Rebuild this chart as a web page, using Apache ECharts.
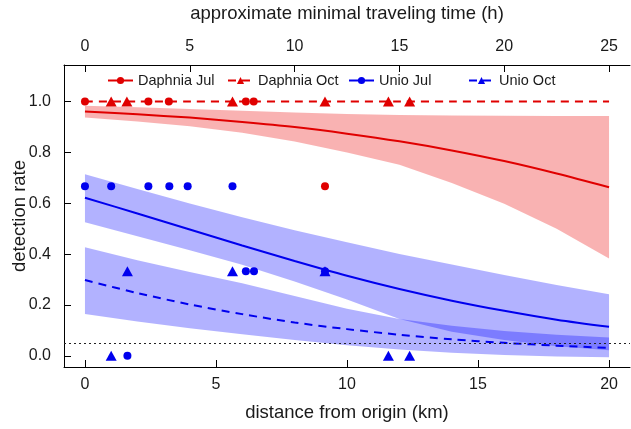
<!DOCTYPE html>
<html><head><meta charset="utf-8">
<script src="https://cdn.jsdelivr.net/npm/echarts@6/dist/echarts.min.js"></script>
<style>html,body{margin:0;padding:0;background:#fff}#c{width:631px;height:429px}</style>
</head><body><div id="c"></div>
<script>
// distance grid (km) at which fitted curves / bands were read
const xGrid = [0, 2, 4, 6, 8, 10, 12, 14, 16, 18, 20];

// Daphnia Jul fit + band
const daphJulFit = [0.961, 0.950, 0.937, 0.920, 0.900, 0.874, 0.844, 0.808, 0.766, 0.717, 0.663];
const daphJulHi  = [0.984, 0.978, 0.971, 0.964, 0.957, 0.951, 0.947, 0.945, 0.944, 0.943, 0.943];
const daphJulLo  = [0.937, 0.922, 0.903, 0.877, 0.843, 0.800, 0.752, 0.680, 0.598, 0.500, 0.383];
// Daphnia Oct fit
const daphOctFit = [1, 1, 1, 1, 1, 1, 1, 1, 1, 1, 1];
// Unio Jul fit + band
const unioJulFit = [0.622, 0.560, 0.497, 0.434, 0.373, 0.315, 0.263, 0.217, 0.177, 0.142, 0.114];
const unioJulHi  = [0.714, 0.656, 0.599, 0.545, 0.494, 0.447, 0.401, 0.359, 0.318, 0.279, 0.242];
const unioJulLo  = [0.525, 0.470, 0.415, 0.358, 0.292, 0.222, 0.145, 0.095, 0.062, 0.038, 0.022];
// Unio Oct fit + band
const unioOctFit = [0.298, 0.247, 0.202, 0.164, 0.131, 0.105, 0.083, 0.065, 0.051, 0.040, 0.031];
const unioOctHi  = [0.427, 0.376, 0.330, 0.285, 0.235, 0.185, 0.145, 0.118, 0.098, 0.083, 0.072];
const unioOctLo  = [0.164, 0.135, 0.108, 0.085, 0.062, 0.042, 0.025, 0.012, 0.003, -0.003, -0.006];

// observed detection rates
const daphJulPtX = [0, 2.42, 3.2, 6.14, 6.44, 9.16];
const daphJulPtY = [1, 1, 1, 1, 1, 0.667];
const daphOctPtX = [1.0, 1.6, 5.63, 9.16, 11.58, 12.39];
const daphOctPtY = [1, 1, 1, 1, 1, 1];
const unioJulPtX = [0, 1.0, 2.42, 3.22, 3.92, 5.63, 6.14, 6.45, 1.62, 9.16];
const unioJulPtY = [0.667, 0.667, 0.667, 0.667, 0.667, 0.667, 0.333, 0.333, 0, 0.333];
const unioOctPtX = [1.0, 1.62, 5.63, 9.16, 11.58, 12.39];
const unioOctPtY = [0, 0.333, 0.333, 0.333, 0, 0];

const threshold = 0.05;
const yTicks = [0, 0.2, 0.4, 0.6, 0.8, 1.0];
const xTicks = [0, 5, 10, 15, 20];
const hTicks = [0, 5, 10, 15, 20, 25];
const seriesNames = ['Daphnia Jul', 'Daphnia Oct', 'Unio Jul', 'Unio Oct'];

const RED = '#e00000', BLUE = '#0000ee';
const FONT = '"Liberation Sans", Arial, Helvetica, sans-serif';
const TXT = '#1a1a1a';

function pairs(xs, ys) { return xs.map((x, i) => [x, ys[i]]); }

function band(lo, hi, color) {
  return {
    type: 'custom', silent: true, z: 1, xAxisIndex: 0, yAxisIndex: 0,
    data: xGrid.map((x, i) => [x, lo[i], hi[i]]),
    encode: { x: 0, y: [1, 2] },
    renderItem: (params, api) => {
      if (params.dataIndex !== 0) return null;
      const p = [];
      for (let i = 0; i < xGrid.length; i++) p.push(api.coord([xGrid[i], hi[i]]));
      for (let i = xGrid.length - 1; i >= 0; i--) p.push(api.coord([xGrid[i], lo[i]]));
      return { type: 'polygon', shape: { points: p }, style: { fill: color } };
    }
  };
}
function fitLine(name, fit, color, dashed, symbol) {
  return {
    name, type: 'line', z: 3, data: pairs(xGrid, fit), smooth: 0.3,
    showSymbol: false, symbol, symbolSize: 8,
    lineStyle: { color, width: 2, type: dashed ? [8, 6] : 'solid' },
    itemStyle: { color }, emphasis: { disabled: true }
  };
}
function pts(name, xs, ys, color, symbol, size) {
  return {
    name, type: 'scatter', z: 4, data: pairs(xs, ys), symbol, symbolSize: size,
    itemStyle: { color, opacity: 1 }, emphasis: { disabled: true }
  };
}
function legendFor(name, left) {
  return {
    data: [name], left, top: 68, itemWidth: 25, itemHeight: 9, itemGap: 0,
    selectedMode: false,
    textStyle: { fontSize: 14.5, color: TXT, fontFamily: FONT }
  };
}

const chart = echarts.init(document.getElementById('c'), null, { renderer: 'canvas' });
const axisLineStyle = { show: true, onZero: false, lineStyle: { color: '#000', width: 1 } };
chart.setOption({
  animation: false,
  backgroundColor: '#fff',
  textStyle: { fontFamily: FONT },
  grid: { left: 64, right: 1, top: 65, bottom: 62, containLabel: false, outerBoundsMode: 'none' },
  legend: [
    legendFor(seriesNames[0], 102),
    legendFor(seriesNames[1], 222),
    legendFor(seriesNames[2], 343),
    legendFor(seriesNames[3], 463)
  ],
  xAxis: [
    {
      type: 'value', position: 'bottom', min: -0.8, max: 20.8,
      axisLine: axisLineStyle,
      axisTick: { show: true, inside: true, length: 7, customValues: xTicks, lineStyle: { color: '#000' } },
      axisLabel: { customValues: xTicks, fontSize: 16, color: TXT, margin: 10, fontFamily: FONT },
      splitLine: { show: false },
      name: 'distance from origin (km)', nameLocation: 'middle', nameGap: 36, nameMoveOverlap: false,
      nameTextStyle: { fontSize: 18.5, color: TXT, fontFamily: FONT }
    },
    {
      type: 'value', position: 'top', min: -1, max: 26,
      axisLine: axisLineStyle,
      axisTick: { show: true, inside: true, length: 7, customValues: hTicks, lineStyle: { color: '#000' } },
      axisLabel: { customValues: hTicks, fontSize: 16, color: TXT, margin: 10, fontFamily: FONT },
      splitLine: { show: false },
      name: 'approximate minimal traveling time (h)', nameLocation: 'middle', nameGap: 42, nameMoveOverlap: false,
      nameTextStyle: { fontSize: 18.5, color: TXT, fontFamily: FONT }
    }
  ],
  yAxis: {
    type: 'value', min: -0.044, max: 1.144,
    axisLine: axisLineStyle,
    axisTick: { show: true, inside: true, length: 7, customValues: yTicks, lineStyle: { color: '#000' } },
    axisLabel: { customValues: yTicks, fontSize: 16, color: TXT, margin: 13, fontFamily: FONT,
      formatter: v => v.toFixed(1) },
    splitLine: { show: false },
    name: 'detection rate', nameLocation: 'middle', nameGap: 35, nameMoveOverlap: false,
    nameTextStyle: { fontSize: 18.5, color: TXT, fontFamily: FONT }
  },
  series: [
    band(daphJulLo, daphJulHi, 'rgba(235,0,0,0.3)'),
    band(unioJulLo, unioJulHi, 'rgba(0,0,255,0.3)'),
    band(unioOctLo, unioOctHi, 'rgba(0,0,255,0.3)'),
    fitLine('Daphnia Jul', daphJulFit, RED, false, 'circle'),
    Object.assign(fitLine('Daphnia Oct', daphOctFit, RED, true, 'triangle'), {
      markLine: {
        silent: true, symbol: 'none', label: { show: false },
        lineStyle: { color: '#222', width: 1, type: [2, 3] },
        data: [{ yAxis: threshold }]
      }
    }),
    fitLine('Unio Jul', unioJulFit, BLUE, false, 'circle'),
    fitLine('Unio Oct', unioOctFit, BLUE, true, 'triangle'),
    pts('Daphnia Jul', daphJulPtX, daphJulPtY, RED, 'circle', 8),
    pts('Daphnia Oct', daphOctPtX, daphOctPtY, RED, 'triangle', [11, 10]),
    pts('Unio Jul', unioJulPtX, unioJulPtY, BLUE, 'circle', 8),
    pts('Unio Oct', unioOctPtX, unioOctPtY, BLUE, 'triangle', [11, 10])
  ]
});
</script></body></html>
